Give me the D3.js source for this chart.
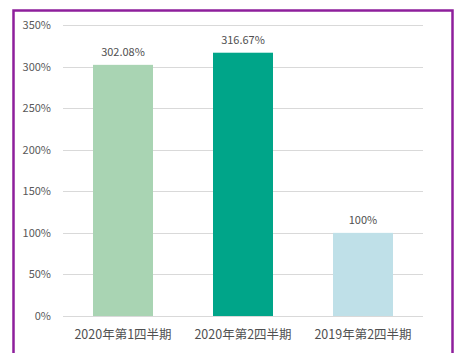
<!DOCTYPE html>
<html>
<head>
<meta charset="utf-8">
<script src="https://cdn.jsdelivr.net/npm/d3@7"></script>
<style>
  body { margin: 0; background: #fff; }
  text { font-family: "Noto Sans CJK SC", "Noto Sans", sans-serif; }
</style>
</head>
<body>
<script>
let categories = ["2020年第1四半期", "2020年第2四半期", "2019年第2四半期"]
let values = [302.08, 316.67, 100]
let valueLabels = ["302.08%", "316.67%", "100%"]
let colors = ["#a9d4b3", "#00a589", "#bfe0e8"]
let yTicks = [0, 50, 100, 150, 200, 250, 300, 350]

let width = 456
let height = 353
let margin = {left: 63, right: 33, top: 25, bottom: 37}

let svg = d3.select('body').append('svg')
    .attr('width', width)
    .attr('height', height)

// purple frame, bottom edge runs off the picture
svg.append('rect')
    .attr('x', 13.5)
    .attr('y', 10.5)
    .attr('width', 439)
    .attr('height', 360)
    .attr('fill', 'none')
    .attr('stroke', '#8e1f9c')
    .attr('stroke-width', 2.5)

let x = d3.scaleBand()
    .domain(categories)
    .range([margin.left, width - margin.right])
    .paddingInner(0.5)
    .paddingOuter(0.25)

let y = d3.scaleLinear()
    .domain([0, 350])
    .range([height - margin.bottom, margin.top])

let grid = svg.append('g')
grid.selectAll('line')
    .data(yTicks)
    .enter().append('line')
    .attr('x1', margin.left)
    .attr('x2', width - margin.right)
    .attr('y1', d => Math.round(y(d)) + 0.5)
    .attr('y2', d => Math.round(y(d)) + 0.5)
    .attr('stroke', '#d9d9d9')
    .attr('stroke-width', 1)

let yAxis = svg.append('g')
    .attr('transform', 'translate(' + (margin.left - 12) + ',0)')
    .call(d3.axisLeft(y).tickValues(yTicks).tickSize(0).tickPadding(0).tickFormat(d => d + '%'))
yAxis.select('.domain').remove()
yAxis.selectAll('text')
    .attr('font-size', 11)
    .attr('fill', '#595959')
    .style('font-family', '"Noto Sans CJK SC", "Noto Sans", sans-serif')

svg.selectAll('.bar')
    .data(values)
    .enter().append('rect')
    .attr('class', 'bar')
    .attr('x', (d, i) => x(categories[i]))
    .attr('y', d => y(d))
    .attr('width', x.bandwidth())
    .attr('height', d => y(0) - y(d))
    .attr('fill', (d, i) => colors[i])

svg.selectAll('.vlabel')
    .data(values)
    .enter().append('text')
    .attr('class', 'vlabel')
    .attr('x', (d, i) => x(categories[i]) + x.bandwidth() / 2)
    .attr('y', d => y(d) - 9)
    .attr('text-anchor', 'middle')
    .attr('font-size', 11)
    .attr('fill', '#505050')
    .text((d, i) => valueLabels[i])

let xAxis = svg.append('g')
    .attr('transform', 'translate(0,' + (height - margin.bottom) + ')')
    .call(d3.axisBottom(x).tickSize(0).tickPadding(14))
xAxis.select('.domain').remove()
xAxis.selectAll('text')
    .attr('font-size', 12.5)
    .attr('fill', '#505050')
    .style('font-family', '"Noto Sans CJK SC", "Noto Sans", sans-serif')
</script>
</body>
</html>
